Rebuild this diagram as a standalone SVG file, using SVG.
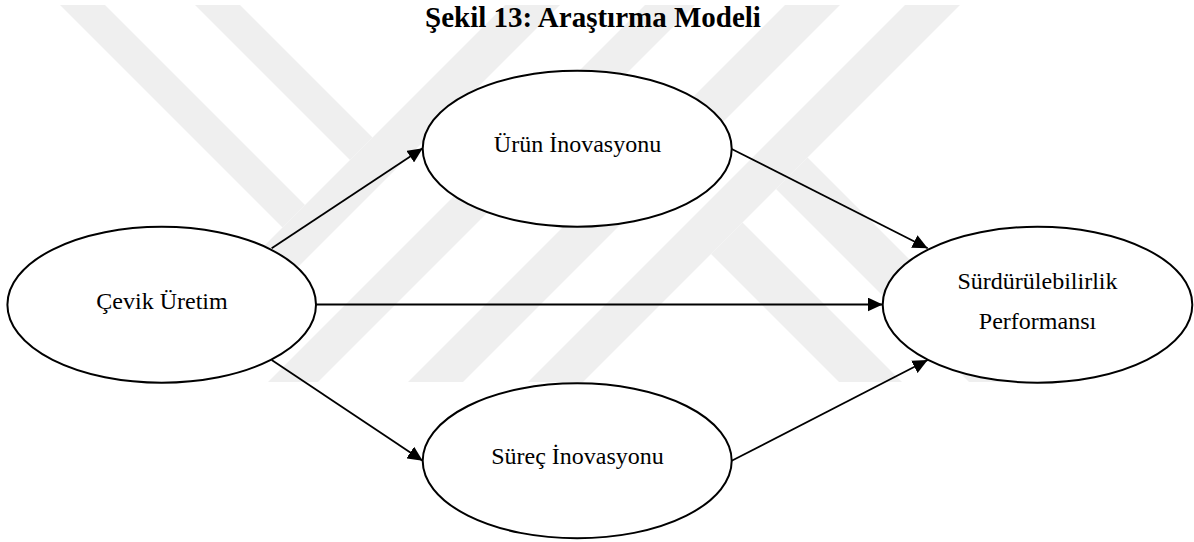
<svg xmlns="http://www.w3.org/2000/svg" width="1194" height="542" viewBox="0 0 1194 542">
<style>
.wm{fill:#efefef;stroke:none}
.node{fill:#ffffff;stroke:#000000;stroke-width:2}
.lbl{font-family:"Liberation Serif","Times New Roman",serif;font-size:24px;fill:#000000;text-anchor:middle}
.title{font-family:"Liberation Serif","Times New Roman",serif;font-size:29px;font-weight:bold;fill:#000000;text-anchor:middle}
.edge{stroke:#000000;stroke-width:1.8;fill:none;marker-end:url(#arr)}
</style>
<defs>
<marker id="arr" markerUnits="userSpaceOnUse" viewBox="0 0 15 14" refX="15" refY="7" markerWidth="15" markerHeight="14" orient="auto">
<path d="M0,0 L15,7 L0,14 Z" fill="#000000"/>
</marker>
<clipPath id="wmclip"><rect x="0" y="5" width="1194" height="377"/></clipPath>
</defs>
<rect x="0" y="0" width="1194" height="542" fill="#ffffff"/>
<g id="watermark" clip-path="url(#wmclip)">
<polygon class="wm" points="55,0 100,0 305,205 282.5,227.5"/>
<polygon class="wm" points="190,0 235,0 372.5,137.5 350,160"/>
<polygon class="wm" points="510,0 565,0 165,400 110,400"/>
<polygon class="wm" points="650,0 700,0 300,400 250,400"/>
<polygon class="wm" points="790,0 845,0 445,400 390,400"/>
<polygon class="wm" points="910,0 965,0 565,400 510,400"/>
<polygon class="wm" points="711,254 742.5,222.5 920,400 857,400"/>
<polygon class="wm" points="776,189 807.5,157.5 1050,400 987,400"/>
</g>
<text class="title" x="593" y="27">Şekil 13: Araştırma Modeli</text>
<g id="connectors">
<line class="edge" x1="271.7" y1="248.3" x2="422.7" y2="148.3"/>
<line class="edge" x1="271.7" y1="360" x2="422.7" y2="460.8"/>
<line class="edge" x1="316" y1="304.5" x2="882.7" y2="304.5"/>
<line class="edge" x1="731.7" y1="149" x2="927.7" y2="248.3"/>
<line class="edge" x1="731.7" y1="460.8" x2="927.7" y2="360"/>
</g>
<g id="cevik">
<ellipse class="node" cx="161.7" cy="304.7" rx="154.3" ry="78"/>
<text class="lbl" x="162" y="308.5">Çevik Üretim</text>
</g>
<g id="urun">
<ellipse class="node" cx="577.2" cy="148.7" rx="154.5" ry="78"/>
<text class="lbl" x="577.5" y="152">Ürün İnovasyonu</text>
</g>
<g id="surec">
<ellipse class="node" cx="577.2" cy="460.8" rx="154.5" ry="77.5"/>
<text class="lbl" x="577.5" y="464">Süreç İnovasyonu</text>
</g>
<g id="surdurulebilirlik">
<ellipse class="node" cx="1037.5" cy="304.7" rx="154.8" ry="78"/>
<text class="lbl" x="1037.5" y="288.5">Sürdürülebilirlik</text>
<text class="lbl" x="1037.5" y="328.5">Performansı</text>
</g>
</svg>
